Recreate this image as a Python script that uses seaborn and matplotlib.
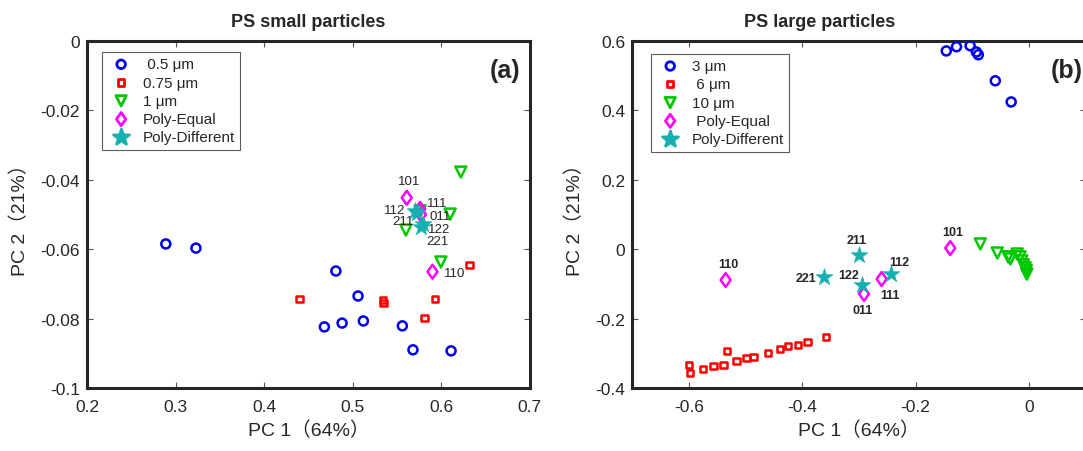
import matplotlib
matplotlib.use("Agg")
import matplotlib.pyplot as plt
from matplotlib.path import Path
import seaborn as sns
import pandas as pd

sns.set_theme(style="white")
plt.rcParams['font.family'] = ['Liberation Sans', 'Noto Sans CJK SC', 'DejaVu Sans']

# ---------------- Data: panel (a) small particles ----------------
a_05_x = [0.289, 0.323, 0.481, 0.506, 0.468, 0.488, 0.512, 0.556, 0.568, 0.611]
a_05_y = [-0.0585, -0.0597, -0.0663, -0.0735, -0.0824, -0.0813, -0.0807, -0.0821, -0.0890, -0.0893]
a_075_x = [0.440, 0.534, 0.535, 0.593, 0.581, 0.632]
a_075_y = [-0.0744, -0.0746, -0.0755, -0.0744, -0.0799, -0.0646]
a_1_x = [0.622, 0.610, 0.560, 0.5995, 0.576]
a_1_y = [-0.0378, -0.0499, -0.0545, -0.0637, -0.0490]
a_pe_x = [0.561, 0.590, 0.576, 0.577]
a_pe_y = [-0.0452, -0.0665, -0.0484, -0.0500]
a_pe_lab = ["101", "110", "111", "011"]
a_pd_x = [0.570, 0.573, 0.579, 0.577]
a_pd_y = [-0.0490, -0.0497, -0.0528, -0.0535]
a_pd_lab = ["112", "211", "122", "221"]

# ---------------- Data: panel (b) large particles ----------------
b_3_x = [-0.146, -0.128, -0.104, -0.093, -0.0895, -0.0596, -0.0316]
b_3_y = [0.571, 0.583, 0.586, 0.568, 0.560, 0.485, 0.424]
b_6_x = [-0.600, -0.598, -0.575, -0.556, -0.539, -0.533, -0.516, -0.498, -0.486,
         -0.460, -0.439, -0.425, -0.407, -0.391, -0.358]
b_6_y = [-0.334, -0.357, -0.345, -0.337, -0.334, -0.294, -0.322, -0.313, -0.311,
         -0.299, -0.288, -0.279, -0.276, -0.268, -0.253]
b_10_x = [-0.086, -0.056, -0.037, -0.033, -0.021, -0.016, -0.013, -0.010, -0.007, -0.005, -0.004]
b_10_y = [0.015, -0.011, -0.022, -0.028, -0.014, -0.022, -0.034, -0.045, -0.054, -0.062, -0.072]
b_pe_x = [-0.535, -0.260, -0.291, -0.139]
b_pe_y = [-0.089, -0.086, -0.129, 0.003]
b_pe_lab = ["110", "111", "011", "101"]
b_pd_x = [-0.300, -0.361, -0.295, -0.244]
b_pd_y = [-0.017, -0.080, -0.103, -0.071]
b_pd_lab = ["211", "221", "122", "112"]

BLUE = '#0000F0'
RED = '#FF0000'
GREEN = '#00C800'
MAG = '#FF00FF'
CYAN = '#17B0B0'

# MATLAB-like diamond marker shape (wider than 'd')
DIAMOND = Path([(0, 1), (0.72, 0), (0, -1), (-0.72, 0), (0, 1)],
               [Path.MOVETO, Path.LINETO, Path.LINETO, Path.LINETO, Path.CLOSEPOLY])

fig = plt.figure(figsize=(10.83, 4.52), dpi=100)
axA = fig.add_axes([0.0803, 0.1394, 0.409, 0.768])
axB = fig.add_axes([0.5836, 0.1394, 0.419, 0.768])


def draw(ax, x, y, marker, color, s, label, filled=False):
    df = pd.DataFrame({'x': x, 'y': y})
    n0 = len(ax.collections)
    if filled:
        sns.scatterplot(data=df, x='x', y='y', ax=ax, marker=marker, s=s,
                        color=color, edgecolor=color, label=label, zorder=4)
        lw = 0.5
    else:
        sns.scatterplot(data=df, x='x', y='y', ax=ax, marker=marker, s=s,
                        facecolor='none', edgecolor=color, label=label, zorder=3)
        lw = 1.8
    for c in ax.collections[n0:]:
        c.set_linewidth(lw)
        c.set_edgecolor(color)
        if not filled:
            c.set_facecolor('none')


draw(axA, a_05_x, a_05_y, 'o', BLUE, 42, ' 0.5 μm')
draw(axA, a_075_x, a_075_y, 's', RED, 22, '0.75 μm')
draw(axA, a_1_x, a_1_y, 'v', GREEN, 62, '1 μm')
draw(axA, a_pe_x, a_pe_y, DIAMOND, MAG, 100, 'Poly-Equal')
draw(axA, a_pd_x, a_pd_y, '*', CYAN, 160, 'Poly-Different', filled=True)

draw(axB, b_3_x, b_3_y, 'o', BLUE, 42, '3 μm')
draw(axB, b_6_x, b_6_y, 's', RED, 22, ' 6 μm')
draw(axB, b_10_x, b_10_y, 'v', GREEN, 62, '10 μm')
draw(axB, b_pe_x, b_pe_y, DIAMOND, MAG, 100, ' Poly-Equal')
draw(axB, b_pd_x, b_pd_y, '*', CYAN, 160, 'Poly-Different', filled=True)

# point labels (offsets in pixels)
a_pe_off = [(2, 17), (22, -1), (17, 6), (19, -2)]
a_pd_off = [(-20, 1), (-14, -8), (16, -5), (16, -14)]
for x, y, t, o in zip(a_pe_x, a_pe_y, a_pe_lab, a_pe_off):
    axA.annotate(t, (x, y), xytext=o, textcoords='offset pixels', ha='center', va='center', fontsize=9.5)
for x, y, t, o in zip(a_pd_x, a_pd_y, a_pd_lab, a_pd_off):
    axA.annotate(t, (x, y), xytext=o, textcoords='offset pixels', ha='center', va='center', fontsize=9.5)

b_pe_off = [(3, 16), (8, -16), (-1, -16), (3, 16)]
b_pd_off = [(-2, 15), (-18, -1), (-13, 10), (9, 12)]
for x, y, t, o in zip(b_pe_x, b_pe_y, b_pe_lab, b_pe_off):
    axB.annotate(t, (x, y), xytext=o, textcoords='offset pixels', ha='center', va='center',
                 fontsize=9, fontweight='bold')
for x, y, t, o in zip(b_pd_x, b_pd_y, b_pd_lab, b_pd_off):
    axB.annotate(t, (x, y), xytext=o, textcoords='offset pixels', ha='center', va='center',
                 fontsize=9, fontweight='bold')

axA.set_xlim(0.2, 0.7)
axA.set_ylim(-0.1, 0)
axA.set_xticks([0.2, 0.3, 0.4, 0.5, 0.6, 0.7])
axA.set_xticklabels(['0.2', '0.3', '0.4', '0.5', '0.6', '0.7'])
axA.set_yticks([-0.1, -0.08, -0.06, -0.04, -0.02, 0])
axA.set_yticklabels(['-0.1', '-0.08', '-0.06', '-0.04', '-0.02', '0'])

axB.set_xlim(-0.7, 0.1)
axB.set_ylim(-0.4, 0.6)
axB.set_xticks([-0.6, -0.4, -0.2, 0])
axB.set_xticklabels(['-0.6', '-0.4', '-0.2', '0'])
axB.set_yticks([-0.4, -0.2, 0, 0.2, 0.4, 0.6])
axB.set_yticklabels(['-0.4', '-0.2', '0', '0.2', '0.4', '0.6'])

for ax in (axA, axB):
    for sp in ax.spines.values():
        sp.set_visible(True)
        sp.set_color('#262626')
        sp.set_linewidth(2.2)
    ax.tick_params(direction='in', length=4, width=0.8, color='#555555',
                   labelsize=12.5, labelcolor='#262626', top=True, right=True,
                   bottom=True, left=True, labeltop=False, labelright=False)
    ax.tick_params(axis='x', pad=8)
    ax.tick_params(axis='y', pad=5)
    ax.set_xlabel('PC 1（64%）', fontsize=14, color='#262626', labelpad=5)
    ax.set_ylabel('PC 2（21%）', fontsize=14, color='#262626', labelpad=8)
    ax.grid(False)

axA.set_title('PS small particles', fontsize=13, fontweight='bold', pad=11)
axB.set_title('PS large particles', fontsize=13, fontweight='bold', pad=11, x=0.414)

axA.text(0.944, 0.915, '(a)', transform=axA.transAxes, ha='center', va='center',
         fontsize=18, fontweight='bold')
axB.text(0.958, 0.915, '(b)', transform=axB.transAxes, ha='center', va='center',
         fontsize=18, fontweight='bold')

for ax, anchor in ((axA, (0.034, 0.968)), (axB, (0.042, 0.963))):
    leg = ax.legend(loc='upper left', bbox_to_anchor=anchor, fontsize=11, frameon=True,
                    fancybox=False, edgecolor='#333333', borderpad=0.35, labelspacing=0.28,
                    handletextpad=0.5, borderaxespad=0, handlelength=1.8, markerscale=0.95)
    leg.get_frame().set_linewidth(0.8)
    for h in leg.legend_handles:
        h.set_linewidth(2.0)

fig.savefig('out.png', dpi=100)
